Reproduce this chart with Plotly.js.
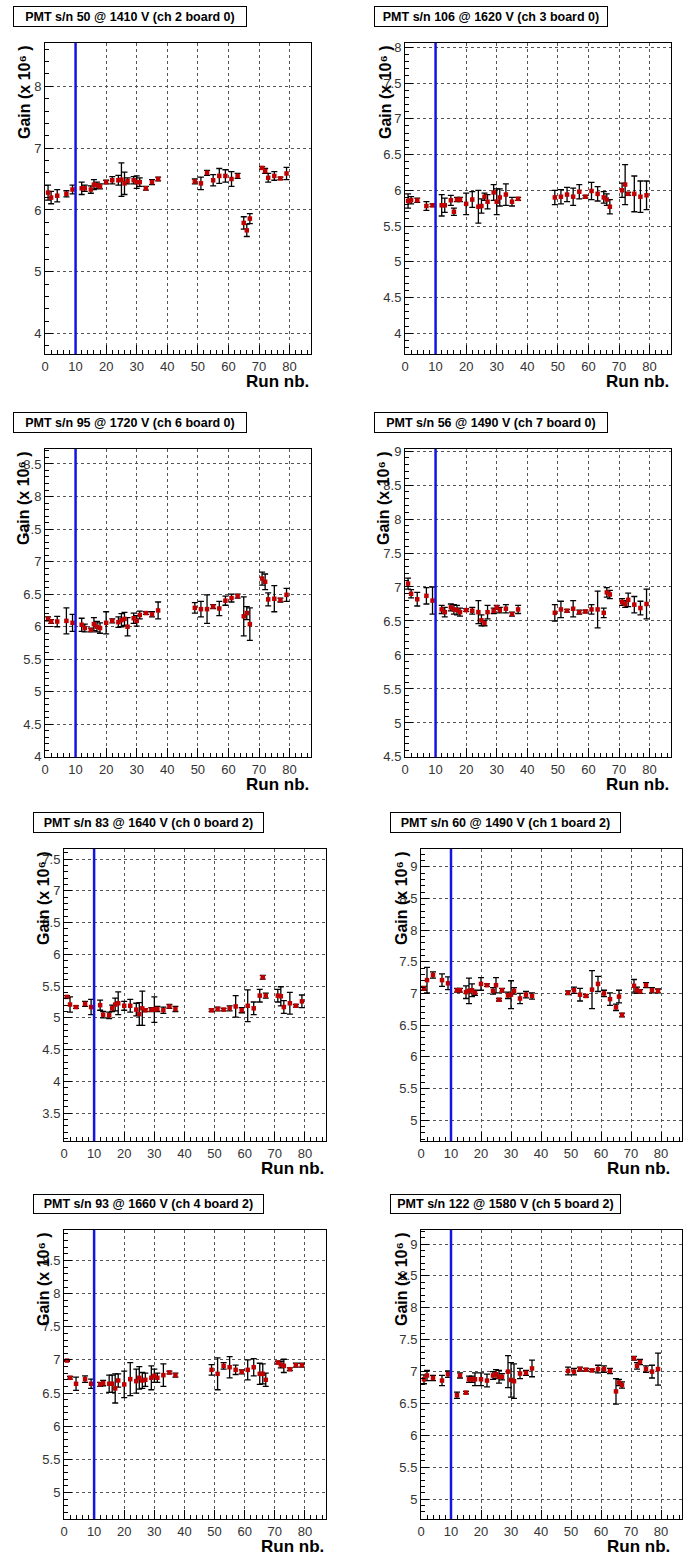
<!DOCTYPE html>
<html><head><meta charset="utf-8">
<script src="https://cdn.plot.ly/plotly-3.0.1.min.js"></script>
<style>html,body{margin:0;padding:0;background:#fff}#chart{width:683px;height:1561px}</style>
</head><body><div id="chart"></div>
<script>
// ---------- DATA ----------
const runs = [1,2,4,7,9,12,13,15,16,17,18,20,22,24,25,26,27,29,30,31,33,35,37,49,51,53,55,57,59,61,63,65,66,67,71,72,73,75,77,79];
const refRun = 10;
const titles = [
  "PMT s/n 50 @ 1410 V (ch 2 board 0)",
  "PMT s/n 106 @ 1620 V (ch 3 board 0)",
  "PMT s/n 95 @ 1720 V (ch 6 board 0)",
  "PMT s/n 56 @ 1490 V (ch 7 board 0)",
  "PMT s/n 83 @ 1640 V (ch 0 board 2)",
  "PMT s/n 60 @ 1490 V (ch 1 board 2)",
  "PMT s/n 93 @ 1660 V (ch 4 board 2)",
  "PMT s/n 122 @ 1580 V (ch 5 board 2)"
];
const xTitle = "Run nb.";
const yTitle = "Gain (x 10\u2076 )";

const gain50 = [6.28,6.20,6.23,6.26,6.33,6.35,6.35,6.33,6.41,6.40,6.38,6.45,6.48,6.48,6.49,6.43,6.47,6.48,6.45,6.45,6.35,6.45,6.50,6.46,6.43,6.60,6.48,6.55,6.55,6.50,6.55,5.79,5.67,5.86,6.68,6.63,6.52,6.55,6.51,6.59];
const err50  = [0.12,0.10,0.10,0.05,0.07,0.10,0.05,0.06,0.08,0.05,0.04,0.03,0.06,0.08,0.27,0.18,0.05,0.06,0.10,0.07,0.03,0.04,0.03,0.04,0.10,0.04,0.09,0.12,0.10,0.12,0.04,0.10,0.10,0.08,0.02,0.04,0.07,0.07,0.02,0.10];

const gain106 = [5.85,5.86,5.86,5.78,5.79,5.79,5.79,5.86,5.70,5.87,5.87,5.81,5.87,5.77,5.78,5.91,5.84,5.97,5.84,5.90,5.94,5.84,5.88,5.90,5.91,5.94,5.91,5.98,5.91,5.99,5.95,5.90,5.87,5.77,6.00,6.08,5.95,5.95,5.91,5.93];
const err106  = [0.10,0.05,0.03,0.06,0.02,0.15,0.10,0.07,0.05,0.03,0.03,0.15,0.11,0.23,0.10,0.05,0.10,0.11,0.18,0.12,0.15,0.06,0.02,0.10,0.10,0.10,0.12,0.10,0.02,0.12,0.10,0.08,0.08,0.10,0.10,0.28,0.02,0.25,0.22,0.20];

const gain95 = [6.12,6.08,6.08,6.09,6.06,6.03,5.98,5.95,6.04,6.00,5.98,6.06,6.09,6.07,6.10,6.12,6.00,6.13,6.09,6.18,6.21,6.19,6.25,6.29,6.27,6.27,6.31,6.28,6.40,6.44,6.47,6.16,6.21,6.04,6.74,6.69,6.42,6.43,6.41,6.49];
const err95  = [0.03,0.03,0.08,0.20,0.13,0.10,0.06,0.03,0.10,0.08,0.08,0.17,0.03,0.08,0.10,0.10,0.14,0.08,0.08,0.06,0.02,0.04,0.13,0.08,0.12,0.22,0.03,0.11,0.07,0.06,0.03,0.30,0.10,0.25,0.10,0.12,0.10,0.20,0.03,0.10];

const gain56 = [7.05,6.90,6.82,6.87,6.80,6.67,6.63,6.70,6.67,6.66,6.63,6.66,6.65,6.63,6.51,6.47,6.63,6.65,6.70,6.66,6.68,6.60,6.67,6.62,6.67,6.65,6.68,6.63,6.64,6.67,6.67,6.62,6.92,6.89,6.78,6.75,6.81,6.74,6.69,6.75];
const err56  = [0.08,0.06,0.10,0.12,0.20,0.06,0.07,0.05,0.07,0.07,0.06,0.02,0.05,0.17,0.08,0.04,0.10,0.04,0.03,0.04,0.06,0.03,0.06,0.12,0.12,0.02,0.12,0.03,0.02,0.07,0.27,0.07,0.07,0.06,0.05,0.05,0.10,0.12,0.10,0.22];

const gain83 = [5.33,5.21,5.17,5.22,5.17,5.20,5.05,5.04,5.15,5.21,5.23,5.19,5.19,5.13,5.06,5.15,5.12,5.13,5.13,5.14,5.12,5.18,5.14,5.12,5.14,5.13,5.15,5.18,5.12,5.19,5.15,5.35,5.64,5.35,5.35,5.34,5.17,5.23,5.19,5.26];
const err83  = [0.02,0.12,0.02,0.04,0.12,0.08,0.05,0.05,0.05,0.10,0.18,0.07,0.10,0.10,0.18,0.27,0.02,0.03,0.20,0.04,0.05,0.03,0.04,0.02,0.03,0.02,0.04,0.17,0.04,0.25,0.10,0.10,0.03,0.04,0.10,0.15,0.10,0.17,0.02,0.10];

const gain60 = [7.08,7.21,7.29,7.21,7.16,7.05,7.05,7.02,7.04,7.05,7.01,7.15,7.13,7.04,7.13,6.90,7.05,6.97,6.98,7.04,6.92,6.98,6.96,7.01,7.05,6.98,6.96,7.06,7.15,7.00,6.91,6.78,6.95,6.66,7.12,7.05,7.03,7.13,7.05,7.04];
const err60  = [0.03,0.20,0.05,0.10,0.10,0.03,0.03,0.10,0.20,0.10,0.04,0.10,0.02,0.05,0.12,0.02,0.03,0.05,0.22,0.05,0.08,0.05,0.05,0.03,0.05,0.10,0.02,0.30,0.12,0.05,0.10,0.05,0.10,0.03,0.10,0.05,0.03,0.04,0.04,0.03];

const gain93 = [6.99,6.73,6.64,6.71,6.64,6.63,6.65,6.64,6.64,6.57,6.69,6.63,6.71,6.68,6.73,6.69,6.70,6.73,6.76,6.73,6.77,6.81,6.77,6.85,6.79,6.91,6.89,6.85,6.82,6.85,6.89,6.79,6.79,6.70,6.96,6.93,6.91,6.86,6.92,6.92];
const err93  = [0.01,0.02,0.10,0.05,0.07,0.03,0.04,0.13,0.13,0.22,0.10,0.20,0.25,0.18,0.17,0.12,0.10,0.18,0.10,0.07,0.17,0.02,0.03,0.08,0.24,0.05,0.16,0.07,0.03,0.15,0.13,0.16,0.15,0.10,0.02,0.05,0.10,0.02,0.03,0.03];

const gain122 = [6.88,6.94,6.90,6.86,6.96,6.63,6.94,6.67,6.88,6.88,6.88,6.88,6.86,6.94,6.96,6.92,6.92,7.00,6.87,6.85,6.97,6.98,7.05,7.01,7.00,7.04,7.03,7.02,7.04,7.04,7.01,6.69,6.83,6.79,7.21,7.09,7.15,7.04,7.00,7.04];
const err122  = [0.07,0.08,0.04,0.08,0.05,0.05,0.04,0.02,0.05,0.05,0.10,0.10,0.10,0.06,0.07,0.10,0.05,0.25,0.27,0.27,0.08,0.04,0.13,0.06,0.05,0.03,0.02,0.02,0.06,0.05,0.04,0.20,0.05,0.05,0.03,0.05,0.04,0.05,0.10,0.25];

// ---------- LAYOUT ----------
const W = 683, H = 1561;
const FONT = '"Liberation Sans", Arial, Helvetica, sans-serif';
const panels = [
  {gain: gain50,  err: err50,  frame:[45,311,43,354],    yr:[3.67,8.70],  dt:1,   mdt:0.2, box:[13,247,6,27],      ytx:24,  xtr:311},
  {gain: gain106, err: err106, frame:[405,671,43,354],   yr:[3.71,8.06],  dt:0.5, mdt:0.1, box:[374,608,6,27],     ytx:385, xtr:671},
  {gain: gain95,  err: err95,  frame:[45,311,449,757],   yr:[3.999,8.73], dt:0.5, mdt:0.1, box:[13,247,412,433],   ytx:24,  xtr:311},
  {gain: gain56,  err: err56,  frame:[405,671,449,757],  yr:[4.499,9.03], dt:0.5, mdt:0.1, box:[374,608,412,433],  ytx:384, xtr:671},
  {gain: gain83,  err: err83,  frame:[64,326,849,1141],  yr:[3.06,7.66],  dt:0.5, mdt:0.1, box:[33,264,812,833],   ytx:43,  xtr:326},
  {gain: gain60,  err: err60,  frame:[421,682,849,1141], yr:[4.67,9.28],  dt:0.5, mdt:0.1, box:[390,621,812,833],  ytx:401, xtr:672},
  {gain: gain93,  err: err93,  frame:[64,326,1230,1519], yr:[4.6,8.96],   dt:0.5, mdt:0.1, box:[33,264,1194,1214], ytx:43,  xtr:326},
  {gain: gain122, err: err122, frame:[421,682,1230,1519],yr:[4.69,9.22],  dt:0.5, mdt:0.1, box:[390,621,1194,1214],ytx:401, xtr:672}
];

const data = [];
const layout = {
  width: W, height: H,
  margin: {l:0, r:0, t:0, b:0, pad:0},
  showlegend: false,
  paper_bgcolor: '#ffffff', plot_bgcolor: '#ffffff',
  font: {family: FONT, size: 13, color: '#222'},
  shapes: [], annotations: []
};
const py = v => 1 - v / H;

panels.forEach((p, i) => {
  const k = i === 0 ? '' : String(i + 1);
  const [l, r, t, b] = p.frame;
  const common = {
    showgrid: true, gridcolor: '#555', griddash: 'dot', gridwidth: 1,
    showline: true, linecolor: '#000', linewidth: 1, mirror: true,
    zeroline: false, automargin: false, fixedrange: true,
    ticks: 'inside', tickcolor: '#000', tickwidth: 1,
    tickfont: {family: FONT, size: 13, color: '#333'}
  };
  layout['xaxis' + k] = Object.assign({}, common, {
    domain: [l / W, r / W], anchor: 'y' + k,
    range: [0, 87], tick0: 0, dtick: 10, ticklen: 9,
    minor: {dtick: 2, ticks: 'inside', ticklen: 4.5, tickcolor: '#000', tickwidth: 1, showgrid: false}
  });
  layout['yaxis' + k] = Object.assign({}, common, {
    domain: [py(b), py(t)], anchor: 'x' + k,
    range: p.yr, tick0: 0, dtick: p.dt, ticklen: 8,
    minor: {dtick: p.mdt, ticks: 'inside', ticklen: 4, tickcolor: '#000', tickwidth: 1, showgrid: false}
  });
  data.push({
    type: 'scatter', mode: 'markers', x: runs, y: p.gain,
    xaxis: 'x' + k, yaxis: 'y' + k, hoverinfo: 'x+y',
    marker: {symbol: 'square', size: 4.5, color: '#c00000'},
    error_y: {type: 'data', array: p.err, visible: true, color: '#000', thickness: 1.3, width: 3}
  });
  layout.shapes.push({
    type: 'line', xref: 'x' + k, yref: 'y' + k + ' domain',
    x0: refRun, x1: refRun, y0: 0, y1: 1, layer: 'above',
    line: {color: '#1515e0', width: 2.5}
  });
  const [bl, br, bt, bb] = p.box;
  layout.annotations.push({
    xref: 'paper', yref: 'paper', x: (bl + br) / 2 / W, y: py((bt + bb) / 2),
    xanchor: 'center', yanchor: 'middle', showarrow: false,
    text: titles[i], font: {family: FONT, size: 12.5, color: '#000', weight: 'bold'},
    bgcolor: '#ffffff', bordercolor: '#000', borderwidth: 1, borderpad: 0,
    width: br - bl - 2, height: bb - bt - 2
  });
  layout.annotations.push({
    xref: 'paper', yref: 'paper', x: p.ytx / W, y: py(t),
    xanchor: 'center', yanchor: 'top', showarrow: false, textangle: -90,
    text: yTitle, font: {family: FONT, size: 16, color: '#000', weight: 'bold'}
  });
  layout.annotations.push({
    xref: 'paper', yref: 'paper', x: p.xtr / W, y: py(b + 27),
    xanchor: 'right', yanchor: 'middle', showarrow: false,
    text: xTitle, font: {family: FONT, size: 17, color: '#000', weight: 'bold'}
  });
});

Plotly.newPlot('chart', data, layout, {displayModeBar: false, staticPlot: true});
</script>
</body></html>
